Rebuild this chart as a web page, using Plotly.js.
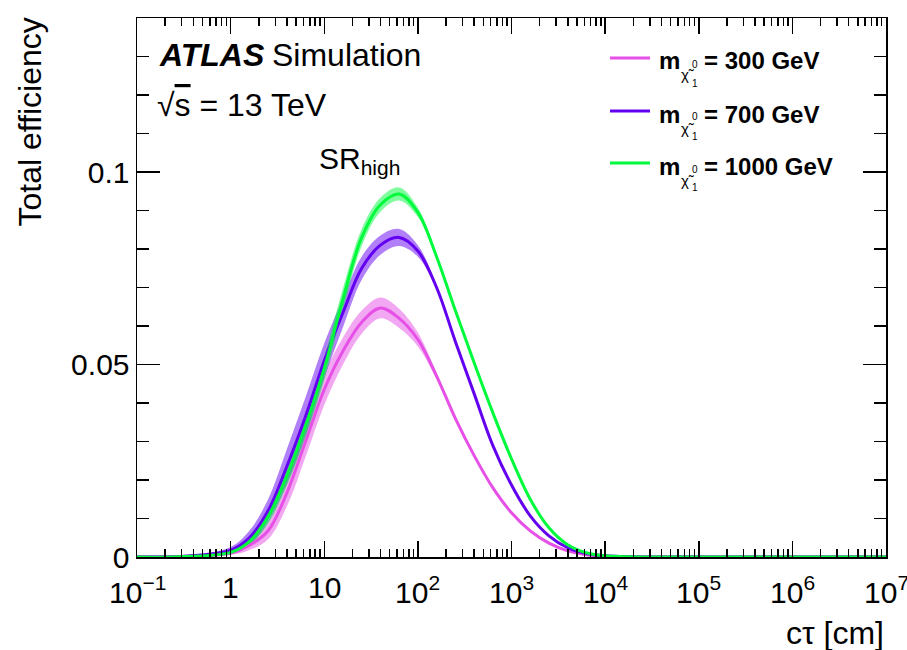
<!DOCTYPE html>
<html>
<head>
<meta charset="utf-8">
<script src="https://cdn.plot.ly/plotly-3.0.1.min.js"></script>
<style>
html,body{margin:0;padding:0;background:#fff;overflow:hidden;}
#chart{width:907px;height:650px;}
</style>
</head>
<body>
<div id="chart"></div>
<script>
// ---- data ----
const ctValues = [0.1, 0.316, 1, 1.585, 2.512, 3.981, 6.31, 10, 15.85, 25.12, 39.81, 63.1, 100, 158.5, 251.2, 398.1, 631, 1000, 1585, 2512, 3981, 6310, 10000, 31620, 1e5, 1e6, 1e7];
const eff300  = [0, 0.0001, 0.001, 0.003, 0.0068, 0.0166, 0.030, 0.0435, 0.0535, 0.061, 0.0647, 0.062, 0.0565, 0.047, 0.036, 0.0264, 0.0180, 0.0115, 0.0068, 0.0036, 0.0016, 0.0006, 0.0002, 0, 0, 0, 0];
const err300  = [0, 0, 0.0005, 0.0012, 0.0022, 0.0035, 0.004, 0.004, 0.0035, 0.003, 0.0027, 0.0025, 0.0018, 0.0008, 0.0002, 0, 0, 0, 0, 0, 0, 0, 0, 0, 0, 0, 0];
const eff700  = [0, 0.0002, 0.0018, 0.005, 0.012, 0.0235, 0.0365, 0.051, 0.0635, 0.075, 0.081, 0.083, 0.0795, 0.070, 0.056, 0.0425, 0.029, 0.0187, 0.0107, 0.0055, 0.0024, 0.0009, 0.0003, 0, 0, 0, 0];
const err700  = [0, 0, 0.0008, 0.0018, 0.003, 0.0045, 0.005, 0.0045, 0.0038, 0.003, 0.0025, 0.0022, 0.0015, 0.0006, 0.0002, 0, 0, 0, 0, 0, 0, 0, 0, 0, 0, 0, 0];
const eff1000 = [0, 0.0001, 0.0012, 0.004, 0.0105, 0.021, 0.034, 0.049, 0.067, 0.083, 0.0915, 0.0943, 0.0895, 0.078, 0.064, 0.0505, 0.0375, 0.0255, 0.0150, 0.0076, 0.0032, 0.0011, 0.0003, 0, 0, 0, 0];
const err1000 = [0, 0, 0.0005, 0.001, 0.0018, 0.0025, 0.003, 0.003, 0.0028, 0.0022, 0.0018, 0.0017, 0.0012, 0.0005, 0.0001, 0, 0, 0, 0, 0, 0, 0, 0, 0, 0, 0, 0];
const massLabels = ['300', '700', '1000'];
const xTickVals = [0.1, 1, 10, 100, 1000, 10000, 1e5, 1e6, 1e7];
const xTickText = ['10<sup>−1</sup>', '1', '10', '10<sup>2</sup>', '10<sup>3</sup>', '10<sup>4</sup>', '10<sup>5</sup>', '10<sup>6</sup>', '10<sup>7</sup>'];
const yTickVals = [0, 0.05, 0.1];
const yTickText = ['0', '0.05', '0.1'];

// ---- styling ----
const lineColors = ['#E650E6', '#6400F0', '#00FA3C'];
const bandColors = ['rgba(230,80,230,0.5)', 'rgba(100,0,240,0.5)', 'rgba(0,250,60,0.5)'];
const FONT = 'Liberation Sans, Arial, Helvetica, sans-serif';

const W = 907, H = 650, L = 137, R = 886, T = 18, B = 557;
const px = x => (x - L) / (R - L);
const py = y => (B - y) / (B - T);

const series = [[eff300, err300], [eff700, err700], [eff1000, err1000]];
const traces = [];
series.forEach(([v, e], i) => {
  traces.push({x: ctValues, y: v.map((a, k) => a - e[k]), mode: 'lines', line: {width: 0, shape: 'spline', color: bandColors[i]}, hoverinfo: 'skip', showlegend: false});
  traces.push({x: ctValues, y: v.map((a, k) => a + e[k]), mode: 'lines', line: {width: 0, shape: 'spline', color: bandColors[i]}, fill: 'tonexty', fillcolor: bandColors[i], hoverinfo: 'skip', showlegend: false});
});
series.forEach(([v], i) => {
  traces.push({x: ctValues, y: v, mode: 'lines', line: {width: 3, shape: 'spline', color: lineColors[i]}, name: massLabels[i], showlegend: false});
});

// minor tick positions on the log axis
const minorX = [];
for (let d = -1; d < 7; d++) for (let k = 2; k <= 9; k++) minorX.push(k * Math.pow(10, d));

// major x tick labels (drawn as annotations under each decade so the last one can run off the page like in the reference)
const ann = [];
xTickVals.forEach((v, i) => {
  ann.push({x: Math.log10(v), y: 0, xref: 'x', yref: 'paper', xanchor: 'center', yanchor: 'top', yshift: -12, showarrow: false,
    text: xTickText[i], font: {family: FONT, size: 30, color: '#000'}});
});

ann.push({x: px(157), y: py(55), xref: 'paper', yref: 'paper', xanchor: 'left', yanchor: 'middle', showarrow: false,
  text: '<b><i>ATLAS</i></b>', font: {family: FONT, size: 32, color: '#000'}});
ann.push({x: px(270), y: py(55), xref: 'paper', yref: 'paper', xanchor: 'left', yanchor: 'middle', showarrow: false,
  text: 'Simulation', font: {family: FONT, size: 32, color: '#000'}});
ann.push({x: px(155), y: py(105), xref: 'paper', yref: 'paper', xanchor: 'left', yanchor: 'middle', showarrow: false,
  text: '√<span style="text-decoration:overline">s</span> = 13 TeV', font: {family: FONT, size: 32, color: '#000'}});
ann.push({x: px(317), y: py(160), xref: 'paper', yref: 'paper', xanchor: 'left', yanchor: 'middle', showarrow: false,
  text: 'SR<sub>high</sub>', font: {family: FONT, size: 30, color: '#000'}});
// axis titles
ann.push({x: px(886), y: py(633), xref: 'paper', yref: 'paper', xanchor: 'right', yanchor: 'middle', showarrow: false,
  text: 'cτ [cm]', font: {family: FONT, size: 32, color: '#000'}});
ann.push({x: px(30), y: py(16), xref: 'paper', yref: 'paper', xanchor: 'center', yanchor: 'top', showarrow: false, textangle: -90,
  text: 'Total efficiency', font: {family: FONT, size: 32, color: '#000'}});

// legend
const shapes = [];
const legY = [58, 111, 163];
massLabels.forEach((m, i) => {
  const y = legY[i];
  shapes.push({type: 'line', xref: 'paper', yref: 'paper', x0: px(610), x1: px(650), y0: py(y), y1: py(y), line: {color: lineColors[i], width: 3}});
  ann.push({x: px(657), y: py(y + 3), xref: 'paper', yref: 'paper', xanchor: 'left', yanchor: 'middle', showarrow: false,
    text: '<b>m</b>', font: {family: FONT, size: 24, color: '#000'}});
  ann.push({x: px(679), y: py(y + 17), xref: 'paper', yref: 'paper', xanchor: 'left', yanchor: 'middle', showarrow: false,
    text: 'χ̃', font: {family: FONT, size: 15, color: '#000'}});
  ann.push({x: px(690), y: py(y + 6), xref: 'paper', yref: 'paper', xanchor: 'left', yanchor: 'middle', showarrow: false,
    text: '0', font: {family: FONT, size: 10, color: '#000'}});
  ann.push({x: px(690), y: py(y + 25), xref: 'paper', yref: 'paper', xanchor: 'left', yanchor: 'middle', showarrow: false,
    text: '1', font: {family: FONT, size: 10, color: '#000'}});
  ann.push({x: px(702), y: py(y + 3), xref: 'paper', yref: 'paper', xanchor: 'left', yanchor: 'middle', showarrow: false,
    text: '<b>= ' + m + ' GeV</b>', font: {family: FONT, size: 24, color: '#000'}});
});

const layout = {
  width: W, height: H,
  margin: {l: L, r: W - R, t: T, b: H - B, pad: 0},
  paper_bgcolor: '#fff', plot_bgcolor: '#fff',
  showlegend: false,
  font: {family: FONT, color: '#000'},
  xaxis: {
    type: 'log', range: [-1, 7],
    tickmode: 'array', tickvals: xTickVals, ticktext: xTickText, showticklabels: false,
    ticks: 'inside', ticklen: 16, tickwidth: 1.5, tickcolor: '#000',
    minor: {tickmode: 'array', tickvals: minorX, ticks: 'inside', ticklen: 8, tickwidth: 1.5, tickcolor: '#000', showgrid: false},
    showline: true, linecolor: '#000', linewidth: 1.5, mirror: 'ticks',
    showgrid: false, zeroline: false
  },
  yaxis: {
    range: [0, 0.14],
    tickmode: 'array', tickvals: yTickVals, ticktext: yTickText,
    ticks: 'inside', ticklen: 23, tickwidth: 1.5, tickcolor: '#000',
    minor: {dtick: 0.01, ticks: 'inside', ticklen: 12, tickwidth: 1.5, tickcolor: '#000', showgrid: false},
    showline: true, linecolor: '#000', linewidth: 1.5, mirror: 'ticks',
    showgrid: false, zeroline: false,
    tickfont: {family: FONT, size: 30, color: '#000'}
  },
  annotations: ann,
  shapes: shapes
};

Plotly.newPlot('chart', traces, layout, {displayModeBar: false, staticPlot: true});
</script>
</body>
</html>
